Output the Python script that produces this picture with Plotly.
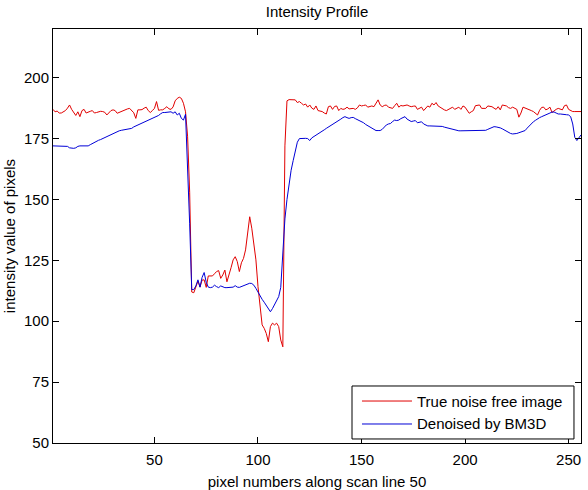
import plotly.graph_objects as go

pixel = list(range(1, 257))

true_noise_free = [
    187, 186, 186.3, 185.5, 185.5, 186, 186.5, 187.5, 188.8, 187,
    185.5, 184.5, 186, 184, 186.5, 187, 185.5, 186, 186.2, 186.5,
    185.5, 185.7, 186, 186.2, 186.1, 185.8, 184.7, 185.5, 186.5, 186.8,
    186.5, 185.4, 185.8, 186.1, 186.5, 186.8, 187.2, 187.4, 186.4, 185.6,
    183.3, 186.8, 186.8, 186.9, 187.5, 187.9, 186.5, 185.7, 186.5, 187.4,
    190.2, 186.6, 186.8, 186.8, 187.4, 188.1, 187.2, 187, 188, 190.5,
    191.5, 192, 191.5, 189.5, 186, 176, 153, 112, 111.7, 114.5,
    116.5, 114, 116.9, 117, 113.9, 118.6, 118.6, 118.6, 119.5, 120.4,
    120.8, 117.6, 119, 121, 116.2, 119.7, 122, 125.2, 126.5, 124.5,
    120.4, 124, 125.8, 129.3, 137.5, 142.9, 138.2, 130.6, 125.2, 114.2,
    107.4, 98.5, 97.1, 95, 91.6, 97.8, 99.2, 98.5, 99.2, 97.8,
    92.3, 89.5, 172, 190.5, 191, 191, 191, 190.9, 189.8, 190.2,
    189.5, 188.8, 189.2, 187.9, 188.8, 187.5, 187, 188.4, 186.5, 186.3,
    186.1, 185.5, 185.1, 188.1, 188.4, 187, 188.2, 188.4, 186.5, 187.4,
    187, 187.2, 187.9, 187.2, 187.4, 187.4, 187, 187.6, 188.8, 188.4,
    188.6, 188.8, 187.9, 188.1, 188.4, 188.1, 189.5, 190.9, 188.8, 188.1,
    188.6, 188.8, 187.9, 187.7, 187.4, 188.5, 189.5, 187.9, 188.6, 188.4,
    188.5, 188.8, 188.4, 188.1, 188.3, 188.4, 187, 187.5, 187.9, 186.5,
    187.5, 188.4, 187.9, 189.5, 188.8, 189.8, 188.4, 187.8, 187.4, 186.8,
    186.5, 187, 187.5, 187.9, 187, 187.5, 187.9, 187, 188.4, 187.9,
    186.8, 185.4, 186, 186.5, 188.5, 188.8, 188.8, 187.4, 187.4, 187.4,
    188.4, 188.2, 188.1, 187.5, 187, 188.1, 186.8, 188.8, 188.6, 188.4,
    187.7, 187.4, 187.9, 187.5, 187, 183.8, 185.5, 187.9, 187.6, 187.4,
    187, 186.5, 186.1, 185.4, 184.7, 186.6, 187.8, 187.9, 186.8, 187.2,
    187.9, 185.7, 186.5, 187, 187.4, 187, 186.8, 188.5, 188.8, 187,
    186.4, 186.1, 186.1, 186.1, 186.1, 186.1,
]

denoised_bm3d = [
    172, 172, 172, 172, 172, 172, 172, 171.8, 171.2, 171,
    171, 171.2, 171.8, 172, 172, 172, 172, 172, 172.5, 173,
    173.4, 173.8, 174.3, 174.6, 175, 175.5, 175.9, 176.2, 176.5, 177,
    177.6, 178, 178.2, 178.4, 178.5, 178.7, 178.9, 179, 179.2, 179.8,
    180.2, 180.5, 180.9, 181.2, 181.6, 182, 182.4, 182.8, 183.2, 183.7,
    184, 184.5, 185.2, 185.7, 185.7, 185.7, 185.8, 186, 185.4, 186,
    184.7, 185.4, 183.3, 182.6, 185, 165, 140, 113, 113, 114.5,
    117, 114, 118, 120, 116, 114, 113.8, 114, 114.8, 114.2,
    113.8, 114.5, 114, 113.8, 113.8, 113.8, 113.8, 114, 114.6, 114,
    113.9, 114.2, 114.6, 115, 115.3, 115.6, 115.5, 114.8, 113.5, 112,
    110.1, 109, 107.8, 106.5, 105, 103.9, 105.2, 106.7, 108.5, 110.1,
    113.9, 128, 142, 150, 157, 162, 166, 170, 173.5, 175,
    175.1, 175.1, 175.1, 175, 174.2, 175.3, 175.8, 176.3, 176.8, 177.3,
    178, 178.6, 179.2, 179.7, 180.3, 180.8, 181.3, 181.8, 182.4, 183,
    183.6, 184, 183.6, 183.3, 183.6, 183.7, 183.2, 182.8, 182.6, 182,
    181.5, 180.8, 180.3, 179.9, 179.4, 178.8, 178.3, 178.3, 178.3, 178.8,
    179.8, 180.6, 181, 181.2, 182, 182.6, 182.4, 182.6, 183.2, 183.6,
    184, 183, 182.6, 182, 182.2, 182.4, 181.5, 181.6, 181.9, 181,
    180.5, 180.2, 180.2, 180.2, 180.2, 180.2, 180.2, 180.2, 180, 179.7,
    179.5, 179.2, 178.9, 178.6, 178.4, 178.3, 178.2, 178.2, 178.2, 178.2,
    178.2, 178.2, 178.2, 178.2, 178.2, 178.2, 178.2, 178.2, 178.2, 178.4,
    178.8, 179.2, 179.6, 179.9, 179.8, 179.7, 179.4, 179, 178.5, 178,
    177.5, 177.1, 176.9, 176.9, 177.1, 177.4, 177.7, 178, 178.3, 179.3,
    180.3, 181.2, 181.9, 182.5, 183.2, 183.6, 184, 184.3, 184.7, 185.1,
    185.5, 185.9, 185.9, 185.5, 185.1, 185.1, 185.1, 185, 184.8, 184.7,
    184, 181, 175.5, 174.2, 175.5, 176.5,
]

series_names = ["True noise free image", "Denoised by BM3D"]
series_colors = ["rgb(225,0,0)", "rgb(0,0,215)"]

x_ticks = [50, 100, 150, 200, 250]
y_ticks = [50, 75, 100, 125, 150, 175, 200]

FONT = "Liberation Sans, Arial, Helvetica, sans-serif"

fig = go.Figure()
for name, vals, col in zip(series_names, [true_noise_free, denoised_bm3d], series_colors):
    fig.add_trace(go.Scatter(x=pixel, y=vals, mode="lines", name=name,
                             line=dict(color=col, width=1), showlegend=False))

axis_common = dict(
    showline=True, linecolor="black", linewidth=1, mirror="allticks",
    ticks="inside", ticklen=6, tickwidth=1, tickcolor="black",
    showgrid=False, zeroline=False, automargin=False,
    tickfont=dict(family=FONT, size=15, color="black"),
)

fig.update_layout(
    width=588, height=490,
    margin=dict(l=53, r=7, t=29, b=47),
    paper_bgcolor="white", plot_bgcolor="white",
    font=dict(family=FONT, size=15, color="black"),
    title=dict(text="Intensity Profile", x=0.5, xref="paper", xanchor="center",
               y=1 - 12 / 490, yref="container", yanchor="middle",
               font=dict(family=FONT, size=15, color="black")),
    xaxis=dict(range=[1, 256], tickvals=x_ticks, ticktext=[str(t) for t in x_ticks],
               ticklabelstandoff=3,
               title=dict(text="pixel numbers along scan line 50", standoff=9,
                          font=dict(family=FONT, size=15, color="black")),
               **axis_common),
    yaxis=dict(range=[50, 220], tickvals=y_ticks, ticktext=[str(t) for t in y_ticks],
               title=dict(text="intensity value of pixels", standoff=4,
                          font=dict(family=FONT, size=15, color="black")),
               **axis_common),
)

# Legend box (MATLAB style) drawn as shapes + text
lx0, lx1, ly0, ly1 = 0.5663, 0.9867, 0.0097, 0.1377
fig.add_shape(type="rect", xref="paper", yref="paper", x0=lx0, x1=lx1, y0=ly0, y1=ly1,
              line=dict(color="black", width=1), fillcolor="white", layer="above")
rows_y = [0.1014, 0.0459]
for name, col, yy in zip(series_names, series_colors, rows_y):
    fig.add_shape(type="line", xref="paper", yref="paper", x0=0.5852, x1=0.6799,
                  y0=yy, y1=yy, line=dict(color=col, width=1), layer="above")
    fig.add_annotation(xref="paper", yref="paper", x=0.6856, y=yy, text=name,
                       showarrow=False, xanchor="left", yanchor="middle",
                       font=dict(family=FONT, size=15, color="black"))

fig.write_html("out.html")
